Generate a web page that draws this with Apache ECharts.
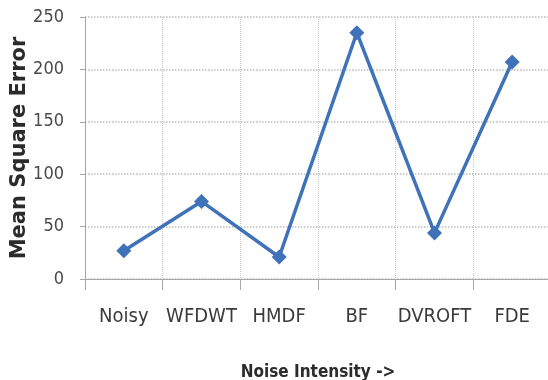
<!DOCTYPE html>
<html>
<head>
<meta charset="utf-8">
<script src="https://cdn.jsdelivr.net/npm/echarts@6/dist/echarts.min.js"></script>
<style>html,body{margin:0;padding:0;background:#fff;}#c{width:548px;height:380px;}</style>
</head>
<body>
<div id="c"></div>
<script>
const categories = ['Noisy', 'WFDWT', 'HMDF', 'BF', 'DVROFT', 'FDE'];
const mseValues = [27, 74, 21, 235, 44, 207];
const yTicks = { min: 0, max: 250, interval: 50 };

const chart = echarts.init(document.getElementById('c'), null, { renderer: 'canvas' });
const font = '"DejaVu Sans Condensed", "Liberation Sans Narrow", sans-serif';
chart.setOption({
  animation: false,
  backgroundColor: '#ffffff',
  grid: { left: 85, right: -3, top: 17, bottom: 101, containLabel: false, outerBoundsMode: 'none' },
  xAxis: {
    type: 'category',
    data: categories,
    boundaryGap: true,
    name: 'Noise Intensity ->',
    nameLocation: 'middle',
    nameGap: 85,
    nameMoveOverlap: false,
    nameTextStyle: { fontFamily: font, fontSize: 17, fontWeight: 'bold', color: '#2b2b2b' },
    axisLine: { show: true, lineStyle: { color: '#a6a6a6', width: 1 } },
    axisTick: { show: true, interval: 0, length: 11, lineStyle: { color: '#a6a6a6' } },
    axisLabel: { interval: 0, fontFamily: font, fontSize: 20, color: '#3a3a3a', margin: 28 },
    splitLine: { show: true, interval: 0, lineStyle: { color: '#c8c8c8', type: 'dotted', width: 1 } }
  },
  yAxis: {
    type: 'value',
    min: yTicks.min, max: yTicks.max, interval: yTicks.interval,
    name: 'Mean Square Error',
    nameLocation: 'middle',
    nameGap: 55,
    nameMoveOverlap: false,
    nameTextStyle: { fontFamily: '"DejaVu Sans", sans-serif', fontSize: 21, fontWeight: 'bold', color: '#2b2b2b' },
    axisLine: { show: true, lineStyle: { color: '#a6a6a6', width: 1 } },
    axisTick: { show: true, length: 5, lineStyle: { color: '#a6a6a6' } },
    axisLabel: { fontFamily: font, fontSize: 18, color: '#4a4a4a', margin: 21 },
    splitLine: { show: true, lineStyle: { color: '#bdbdbd', type: 'dotted', width: 1.5 } }
  },
  series: [{
    type: 'line',
    data: mseValues,
    symbol: 'diamond',
    symbolSize: 15,
    lineStyle: { color: '#3f72b9', width: 3.5 },
    itemStyle: { color: '#3f72b9' }
  }]
});
</script>
</body>
</html>
